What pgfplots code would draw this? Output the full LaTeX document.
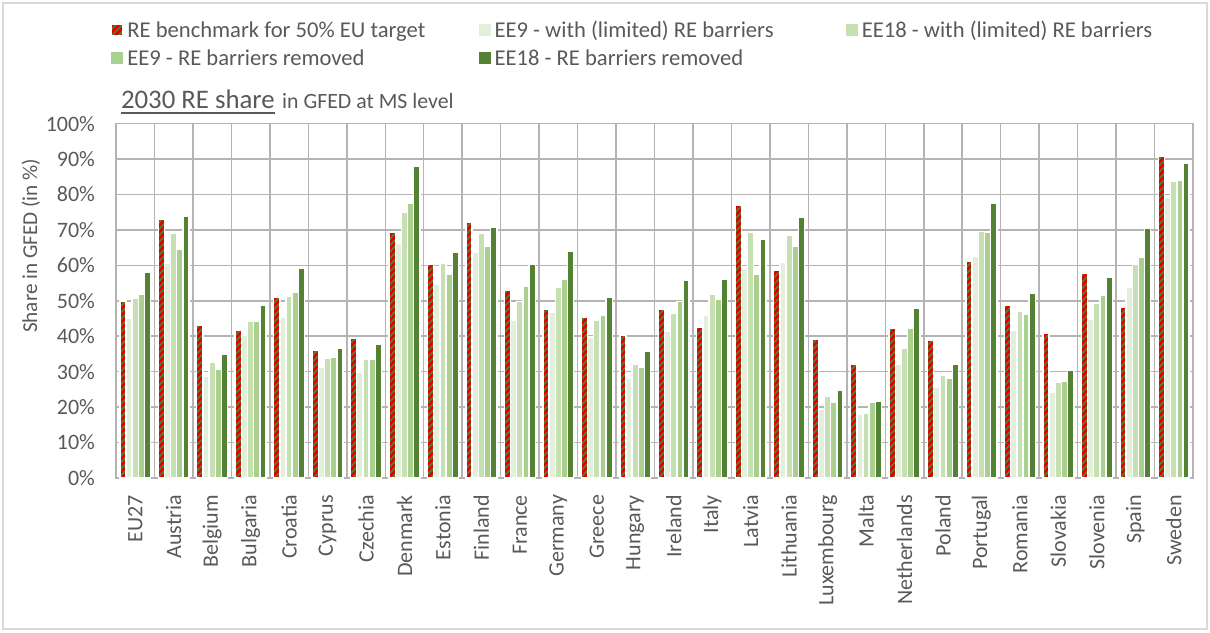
\documentclass[border=0pt]{standalone}
\usepackage{pgfplots}
\pgfplotsset{compat=1.18}
\usepackage{pgfplotstable}
\usepackage{fontspec}
\setmainfont{Carlito}
\usetikzlibrary{patterns.meta}
\definecolor{txt}{HTML}{595959}
\definecolor{gridc}{HTML}{B4B4B4}
\definecolor{bord}{HTML}{D9D9D9}
\definecolor{bgreen}{HTML}{548235}
\definecolor{bred}{HTML}{E20000}
\definecolor{cA}{HTML}{E2EFDA}
\definecolor{cB}{HTML}{C6E0B4}
\definecolor{cC}{HTML}{A9D08E}
\definecolor{cD}{HTML}{548235}

\pgfplotstableread{
x b e9l e18l e9r e18r
0 50.0 45.0 50.7 51.7 58.1
1 72.9 60.5 69.0 64.5 73.8
2 43.1 28.8 32.7 30.6 34.8
3 41.7 40.3 44.3 44.3 48.7
4 51.0 45.3 51.3 52.5 59.2
5 36.0 31.3 33.7 34.0 36.6
6 39.4 29.9 33.6 33.6 37.6
7 69.3 66.2 75.0 77.6 87.9
8 60.3 54.7 60.6 57.5 63.6
9 72.1 63.6 69.0 65.3 70.8
10 53.0 44.6 49.8 54.1 60.4
11 47.6 46.8 53.8 56.0 63.9
12 45.3 39.8 44.6 46.0 51.0
13 40.4 28.1 32.2 31.3 35.7
14 47.6 41.5 46.5 49.8 55.7
15 42.6 45.9 51.7 50.3 56.1
16 77.0 59.1 69.2 57.6 67.4
17 58.7 60.8 68.4 65.5 73.6
18 39.1 19.4 23.0 21.3 24.8
19 32.0 18.0 18.3 21.3 21.6
20 42.3 32.1 36.5 42.1 47.8
21 38.8 25.5 29.0 28.1 32.0
22 61.1 62.6 69.6 69.2 77.4
23 48.7 41.7 47.0 46.1 52.0
24 40.7 24.1 27.0 27.2 30.4
25 57.8 44.8 49.2 51.5 56.5
26 48.1 53.8 60.3 62.2 70.4
27 90.7 79.1 83.6 84.0 88.9
}\data

\begin{document}
\color{txt}
\begin{tikzpicture}
\useasboundingbox (0,0) rectangle (605pt,316pt);
\draw[bord, line width=0.75pt] (1.5pt,1.5pt) rectangle (603.5pt,314.5pt);
\begin{axis}[
  at={(58pt,77pt)}, anchor=south west,
  scale only axis, width=538.5pt, height=177.2pt,
  xmin=-0.5, xmax=27.5, ymin=0, ymax=100,
  enlargelimits=false,
  ybar=0pt, bar width=3.085pt,
  every axis plot post/.append style={
    draw=white, line width=0.7pt,
    legend image code/.code={\fill[##1,draw=none] (0pt,-1.9pt) rectangle (5.8pt,3.9pt);}
  },
  xtick={0,...,27},
  xticklabels={EU27,Austria,Belgium,Bulgaria,Croatia,Cyprus,Czechia,Denmark,Estonia,Finland,France,Germany,Greece,Hungary,Ireland,Italy,Latvia,Lithuania,Luxembourg,Malta,Netherlands,Poland,Portugal,Romania,Slovakia,Slovenia,Spain,Sweden},
  xticklabel style={rotate=90, anchor=east},
  xticklabel shift=5pt,
  ytick={0,10,...,100},
  yticklabel={\pgfmathprintnumber{\tick}\%},
  yticklabel shift=7pt,
  /pgf/number format/assume math mode=true,
  ticklabel style={font=\fontsize{11}{13}\selectfont, text=txt},
  major tick length=0pt, minor tick length=0pt,
  tick style={draw=none},
  minor xtick={0.5,1.5,...,26.5},
  xminorgrids=true, ymajorgrids=true,
  major grid style={draw=gridc, line width=0.75pt},
  minor grid style={draw=gridc, line width=0.75pt},
  axis line style={draw=gridc, line width=0.75pt},
  legend columns=3,
  legend cell align=left,
  legend style={at={(axis description cs:-0.0056,1.219)}, anchor=west,
    draw=none, fill=none, inner sep=0pt,
    font=\fontsize{11.3}{13.5}\selectfont, text=txt,
    nodes={inner ysep=0.4pt, text height=9.2pt, text depth=4pt}},
]
\addplot[fill=bgreen, postaction={pattern={Lines[angle=45,distance=2.3pt,line width=1.35pt]}, pattern color=bred}] table[x=x,y=b]{\data};
\addlegendentry{\makebox[173.8pt][l]{RE benchmark for 50\% EU target}}
\addplot[fill=cA] table[x=x,y=e9l]{\data};
\addlegendentry{\makebox[173.8pt][l]{EE9 - with (limited) RE barriers}}
\addplot[fill=cB] table[x=x,y=e18l]{\data};
\addlegendentry{\makebox[173.8pt][l]{EE18 - with (limited) RE barriers}}
\addplot[fill=cC] table[x=x,y=e9r]{\data};
\addlegendentry{\makebox[173.8pt][l]{EE9 - RE barriers removed}}
\addplot[fill=cD] table[x=x,y=e18r]{\data};
\addlegendentry{\makebox[173.8pt][l]{EE18 - RE barriers removed}}
\end{axis}
\node[rotate=90, text=txt, font=\fontsize{10.6}{12.5}\selectfont] at (15.4pt,193.1pt) {Share in GFED (in \%)};
\node[anchor=base west, inner sep=0pt, text=txt, font=\fontsize{13.4}{16}\selectfont] (t1) at (60.3pt,261.85pt) {2030 RE share};
\draw[txt, line width=0.7pt] ([yshift=-2.4pt]t1.base west) -- ([yshift=-2.4pt]t1.base east);
\node[anchor=base west, inner sep=0pt, text=txt, font=\fontsize{10.9}{13}\selectfont] at ([xshift=3.3pt]t1.base east) {in GFED at MS level};
\end{tikzpicture}
\end{document}
